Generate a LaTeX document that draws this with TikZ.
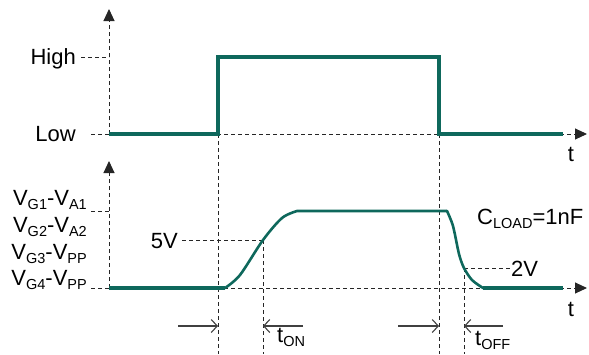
\documentclass[tikz,border=0pt]{standalone}
\usepackage{fontspec}
\setmainfont{Liberation Sans}
\usetikzlibrary{arrows.meta, positioning}
\definecolor{wave}{RGB}{14,104,92}
\newcommand{\lowsub}[1]{\raisebox{-0.4ex}{\fontsize{14.5}{14.5}\selectfont #1}}

\begin{document}
\begin{tikzpicture}[
    x=1pt, y=-1pt,
    guide/.style={draw=black!85, line width=1pt, dash pattern=on 4pt off 3pt},
    axis/.style={guide, -{Triangle[length=12pt,width=11pt]}, shorten >=-1pt},
    signal/.style={draw=wave, line width=3.6pt},
    ramp/.style={draw=wave, line width=2.6pt, line cap=round},
    span/.style={draw=black!75, line width=1.1pt, -{Straight Barb[length=6pt,width=13pt,line width=1.1pt]}},
    lbl/.style={font=\fontsize{22}{24}\selectfont, inner sep=0pt}
]
\useasboundingbox (0,0) rectangle (589,354);

% Top axes
\coordinate (o1) at (109,134);
\coordinate (top1) at (109,10);
\coordinate (end1) at (586,134);
\draw[axis] (o1) -- (top1);
\draw[axis] (91,134) -- (end1);
\node[lbl, anchor=base] (t1) at (571,161) {t};

% Top labels
\node[lbl, anchor=base east] (high) at (76,64) {High};
\node[lbl, anchor=base east] (low) at (76,141) {Low};
\draw[guide] (high.east |- 0,57) ++(5,0) -- (109,57);

% Bottom axes
\coordinate (o2) at (109,288);
\coordinate (top2) at (109,162);
\coordinate (end2) at (586,288);
\draw[axis] (o2) -- (top2);
\draw[axis] (91,288) -- (end2);
\node[lbl, anchor=base] (t2) at (571,316) {t};

% Bottom labels
\node[lbl, anchor=base east] (vg1) at (87,205) {V\lowsub{G1}-V\lowsub{A1}};
\node[lbl, anchor=base east] (vg2) at (87,232) {V\lowsub{G2}-V\lowsub{A2}};
\node[lbl, anchor=base east] (vg3) at (87,259) {V\lowsub{G3}-V\lowsub{PP}};
\node[lbl, anchor=base east] (vg4) at (87,285) {V\lowsub{G4}-V\lowsub{PP}};
\draw[guide] (91,211) -- (109,211);

% Reference levels
\node[lbl, anchor=base east] (five) at (178,248) {5V};
\node[lbl, anchor=base west] (two) at (511,276) {2V};
\node[lbl, anchor=base west] (cload) at (477,224) {C\lowsub{LOAD}=1nF};
\coordinate (on) at (263,240);
\coordinate (off) at (464,268);
\draw[guide] (five.east |- on) ++(4,0) -- (on);
\draw[guide] (off) -- (two.west |- off) -- ++(-4,0);

% Vertical markers
\draw[guide] (218,134) -- (218,354);
\draw[guide] (on) -- (263,354);
\draw[guide] (439,134) -- (439,354);
\draw[guide] (off) -- (464,354);

% Input signal
\draw[signal] (109,134) -- (218,134) -- (218,57) -- (439,57) -- (439,134) -- (563,134);

% Output signal
\draw[signal] (109,288) -- (225,288);
\draw[ramp] plot[smooth, tension=0.5] coordinates {(225,288) (240,275) (on) (282,218) (297,211)}
    -- (447,211);
\draw[ramp] plot[smooth, tension=0.5] coordinates {(447,211) (453,226) (459,254) (off) (472,280) (483,288)};
\draw[signal] (483,288) -- (563,288);

% Timing arrows
\draw[span] (178,326) -- (218,326);
\draw[span] (303,326) -- (on |- 0,326);
\node[lbl, anchor=base west] (ton) at (277,342) {t\lowsub{ON}};
\draw[span] (398,326) -- (439,326);
\draw[span] (503,326) -- (off |- 0,326);
\node[lbl, anchor=base west] (toff) at (475,345) {t\lowsub{OFF}};

\end{tikzpicture}
\end{document}
